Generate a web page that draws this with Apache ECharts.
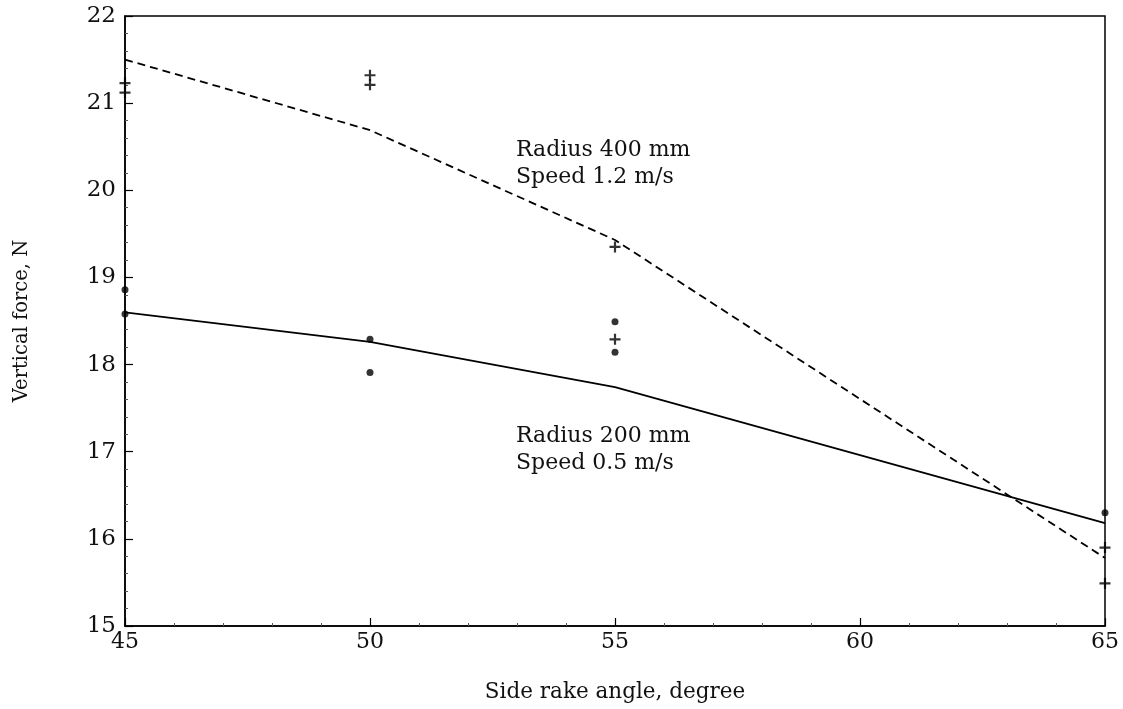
<!DOCTYPE html>
<html>
<head>
<meta charset="utf-8">
<script src="https://cdn.jsdelivr.net/npm/echarts@6/dist/echarts.min.js"></script>
<style>
html,body{margin:0;padding:0;background:#fff;}
#chart{width:1123px;height:709px;}
</style>
</head>
<body>
<div id="chart"></div>
<script>
// Data
const angles = [45, 50, 55, 65];
const fit400 = [21.50, 20.69, 19.43, 15.78];   // dashed: Radius 400 mm, Speed 1.2 m/s
const fit200 = [18.60, 18.26, 17.74, 16.18];   // solid: Radius 200 mm, Speed 0.5 m/s
const plusX = [45, 45, 50, 50, 55, 55, 65, 65];
const plusY = [21.23, 21.12, 21.32, 21.21, 19.35, 18.29, 15.90, 15.49];
const dotX = [45, 45, 50, 50, 55, 55, 65];
const dotY = [18.86, 18.58, 18.29, 17.91, 18.49, 18.14, 16.30];
const xTicks = [45, 50, 55, 60, 65];
const yTicks = [15, 16, 17, 18, 19, 20, 21, 22];
const label400 = ['Radius 400 mm', 'Speed 1.2 m/s'];
const label200 = ['Radius 200 mm', 'Speed 0.5 m/s'];
const xTitle = 'Side rake angle, degree';
const yTitle = 'Vertical force, N';

const FONT = '"DejaVu Serif", "Liberation Serif", serif';
const chart = echarts.init(document.getElementById('chart'), null, {renderer: 'canvas'});

const zip = (a, b) => a.map((v, i) => [v, b[i]]);

const option = {
  backgroundColor: '#ffffff',
  animation: false,
  grid: {left: 125, right: 18, top: 16, bottom: 83, show: true, borderColor: '#000', borderWidth: 1.5, backgroundColor: 'transparent'},
  xAxis: {
    type: 'value', min: xTicks[0], max: xTicks[xTicks.length - 1], interval: 5,
    name: xTitle, nameLocation: 'middle', nameGap: 55,
    nameTextStyle: {fontFamily: FONT, fontSize: 21.5, color: '#111'},
    axisLine: {show: true, lineStyle: {color: '#000', width: 1.5}},
    axisTick: {show: true, inside: true, length: 8, lineStyle: {color: '#000', width: 1.2}},
    minorTick: {show: true, splitNumber: 5, length: 3, lineStyle: {color: '#555', width: 1}},
    axisLabel: {fontFamily: FONT, fontSize: 22, color: '#111', margin: 5},
    splitLine: {show: false}
  },
  yAxis: {
    type: 'value', min: yTicks[0], max: yTicks[yTicks.length - 1], interval: 1,
    name: yTitle, nameLocation: 'middle', nameGap: 93,
    nameTextStyle: {fontFamily: FONT, fontSize: 19.5, color: '#111'},
    axisLine: {show: true, lineStyle: {color: '#000', width: 1.5}},
    axisTick: {show: true, inside: true, length: 8, lineStyle: {color: '#000', width: 1.2}},
    minorTick: {show: true, splitNumber: 5, length: 3, lineStyle: {color: '#555', width: 1}},
    axisLabel: {fontFamily: FONT, fontSize: 23, color: '#111', margin: 9},
    splitLine: {show: false}
  },
  series: [
    {
      type: 'line', data: zip(angles, fit400), showSymbol: false, symbol: 'none',
      lineStyle: {color: '#000', width: 1.8, type: [8, 5]}, z: 3
    },
    {
      type: 'line', data: zip(angles, fit200), showSymbol: false, symbol: 'none',
      lineStyle: {color: '#000', width: 1.8, type: 'solid'}, z: 3
    },
    {
      type: 'scatter', data: zip(plusX, plusY), symbol: 'path://M4,0H6V4H10V6H6V10H4V6H0V4H4Z', symbolSize: 11,
      itemStyle: {color: '#000'}, z: 4
    },
    {
      type: 'scatter', data: zip(dotX, dotY), symbol: 'circle', symbolSize: 7,
      itemStyle: {color: '#000'}, z: 4
    }
  ],
  graphic: [
    {type: 'text', left: 516, top: 137, style: {text: label400.join('\n'), fontFamily: FONT, fontSize: 22, lineHeight: 27, fill: '#111'}},
    {type: 'text', left: 516, top: 423, style: {text: label200.join('\n'), fontFamily: FONT, fontSize: 22, lineHeight: 27, fill: '#111'}}
  ]
};
chart.setOption(option);
</script>
</body>
</html>
